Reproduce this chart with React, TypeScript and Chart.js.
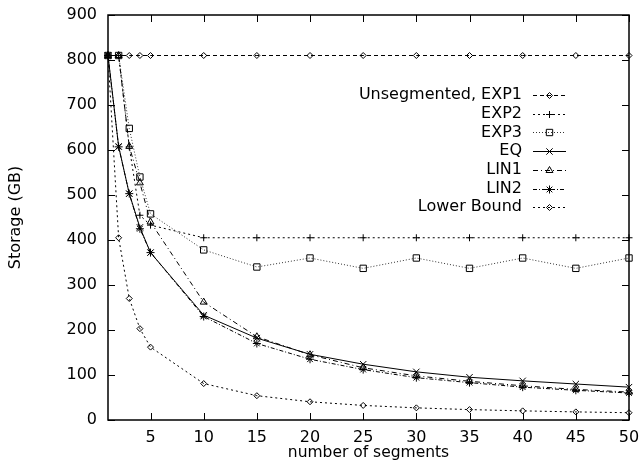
import { useEffect, useRef } from "react";
import { Chart, registerables } from "chart.js";
import { drawPoint } from "chart.js/helpers";

Chart.register(...registerables);

const segments = [1, 2, 3, 4, 5, 10, 15, 20, 25, 30, 35, 40, 45, 50];
const unsegmentedExp1 = [810, 810, 810, 810, 810, 810, 810, 810, 810, 810, 810, 810, 810, 810];
const exp2 = [810, 810, 607, 455, 433, 405, 405, 405, 405, 405, 405, 405, 405, 405];
const exp3 = [810, 810, 648, 540, 458, 378, 340, 360, 337, 360, 337, 360, 337, 360];
const eq = [810, 608, 503, 428, 372, 233, 182, 146, 124, 107, 95, 87, 80, 73];
const lin1 = [810, 810, 608, 527, 440, 262, 185, 145, 116, 98, 86, 76, 68, 62];
const lin2 = [810, 607, 503, 425, 372, 230, 170, 135, 112, 94, 83, 73, 66, 60];
const lowerBound = [810, 405, 270, 203, 162, 81, 54, 40.5, 32.4, 27, 23.1, 20.3, 18, 16.2];

const xTickValues = [5, 10, 15, 20, 25, 30, 35, 40, 45, 50];
const yTickValues = [0, 100, 200, 300, 400, 500, 600, 700, 800, 900];

const FONT = "'DejaVu Sans', sans-serif";

const frameLegendPlugin = {
  id: "frameLegend",
  afterDatasetsDraw(chart: any) {
    const { ctx, chartArea: a, scales } = chart;
    ctx.save();
    ctx.strokeStyle = "#000";
    ctx.setLineDash([]);
    ctx.lineWidth = 1.5;
    ctx.strokeRect(a.left, a.top, a.right - a.left, a.bottom - a.top);
    ctx.lineWidth = 1;
    ctx.beginPath();
    for (const v of xTickValues) {
      const px = Math.round(scales.x.getPixelForValue(v)) + 0.5;
      ctx.moveTo(px, a.bottom);
      ctx.lineTo(px, a.bottom - 7);
      ctx.moveTo(px, a.top);
      ctx.lineTo(px, a.top + 7);
    }
    for (const v of yTickValues) {
      const py = Math.round(scales.y.getPixelForValue(v)) + 0.5;
      ctx.moveTo(a.left, py);
      ctx.lineTo(a.left + 7, py);
      ctx.moveTo(a.right, py);
      ctx.lineTo(a.right - 7, py);
    }
    ctx.stroke();

    // legend
    const textRight = a.right - 107;
    const lineStart = a.right - 96;
    const lineEnd = a.right - 63;
    chart.data.datasets.forEach((ds: any, i: number) => {
      const y = a.top + 80 + i * 18.7;
      ctx.fillStyle = "#000";
      ctx.font = `16px ${FONT}`;
      ctx.textAlign = "right";
      ctx.textBaseline = "middle";
      ctx.fillText(ds.label, textRight, y);
      ctx.strokeStyle = ds.borderColor;
      ctx.lineWidth = ds.borderWidth;
      ctx.setLineDash(ds.borderDash || []);
      ctx.beginPath();
      ctx.moveTo(lineStart, Math.round(y) + 0.5);
      ctx.lineTo(lineEnd, Math.round(y) + 0.5);
      ctx.stroke();
      ctx.setLineDash([]);
      ctx.strokeStyle = "#000";
      ctx.fillStyle = "rgba(0,0,0,0)";
      drawPoint(ctx, { pointStyle: ds.pointStyle, radius: ds.pointRadius, rotation: 0, borderWidth: 1 }, (lineStart + lineEnd) / 2, Math.round(y) + 0.5);
    });
    ctx.restore();
  },
};

function makeDataset(label: string, data: number[], pointStyle: string, dash: number[], radius: number, color = "#000") {
  return {
    label,
    data: segments.map((x, i) => ({ x, y: data[i] })),
    borderColor: color,
    borderWidth: 1,
    borderDash: dash,
    pointStyle,
    pointRadius: radius,
    pointBorderColor: "#000",
    pointBackgroundColor: "rgba(0,0,0,0)",
    pointBorderWidth: 1,
    tension: 0,
    fill: false,
    clip: 8,
  };
}

export default function App() {
  const ref = useRef<HTMLCanvasElement | null>(null);
  useEffect(() => {
    document.body.style.margin = "0";
    const canvas = ref.current!;
    const chart = new Chart(canvas, {
      type: "line",
      data: {
        datasets: [
          makeDataset("Unsegmented, EXP1", unsegmentedExp1, "rectRot", [4, 3], 3),
          makeDataset("EXP2", exp2, "cross", [2, 3], 3.5),
          makeDataset("EXP3", exp3, "rect", [1, 2], 4.5, "#333"),
          makeDataset("EQ", eq, "crossRot", [], 4.5),
          makeDataset("LIN1", lin1, "triangle", [5, 3, 1, 3], 4),
          makeDataset("LIN2", lin2, "star", [4, 2, 1, 2], 4),
          makeDataset("Lower Bound", lowerBound, "rectRot", [2, 3], 3),
        ] as any,
      },
      options: {
        responsive: false,
        animation: false,
        layout: { padding: { left: 0, right: 11, top: 15, bottom: 0 } },
        plugins: { legend: { display: false }, tooltip: { enabled: false } },
        scales: {
          x: {
            type: "linear",
            min: 1,
            max: 50,
            grid: { display: false, drawTicks: false },
            border: { display: false },
            afterBuildTicks: (s: any) => {
              s.ticks = xTickValues.map((v) => ({ value: v }));
            },
            afterFit: (s: any) => {
              s.height = 48;
              s.paddingLeft = 0;
              s.paddingRight = 0;
            },
            ticks: {
              color: "#000",
              padding: 8,
              maxRotation: 0,
              autoSkip: false,
              font: { family: FONT, size: 16 },
            },
            title: {
              display: true,
              text: "number of segments",
              color: "#000",
              font: { family: FONT, size: 15.5 },
              padding: { top: 0, bottom: 6 },
            },
          },
          y: {
            type: "linear",
            min: 0,
            max: 900,
            grid: { display: false, drawTicks: false },
            border: { display: false },
            afterBuildTicks: (s: any) => {
              s.ticks = yTickValues.map((v) => ({ value: v }));
            },
            afterFit: (s: any) => {
              s.width = 108;
              s.paddingTop = 0;
              s.paddingBottom = 0;
            },
            ticks: {
              color: "#000",
              padding: 11,
              font: { family: FONT, size: 16 },
            },
            title: {
              display: true,
              text: "Storage (GB)",
              color: "#000",
              font: { family: FONT, size: 16 },
              padding: { top: 6, bottom: 0 },
            },
          },
        },
      },
      plugins: [frameLegendPlugin],
    });
    return () => chart.destroy();
  }, []);
  return <canvas ref={ref} width={640} height={468} style={{ display: "block" }} />;
}
